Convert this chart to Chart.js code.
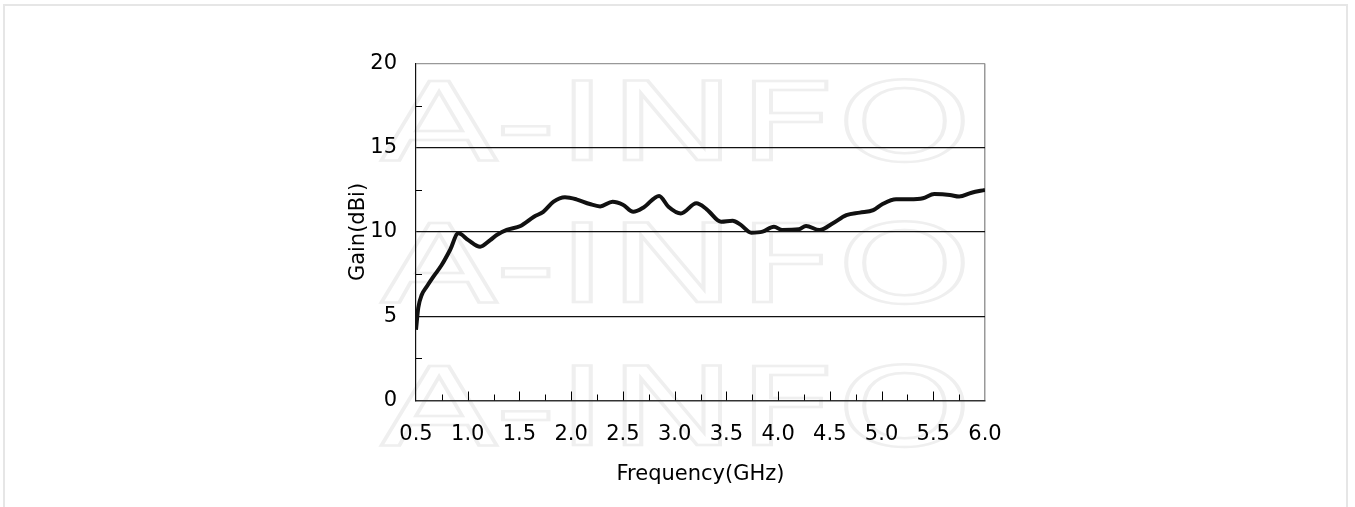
<!DOCTYPE html>
<html>
<head>
<meta charset="utf-8">
<script src="https://cdn.jsdelivr.net/npm/chart.js@4/dist/chart.umd.min.js"></script>
<style>
    body { margin: 0; background: #fff; }
    #wrap { position: relative; width: 1355px; height: 507px; }
    #frame { position: absolute; left: 3px; top: 4px; width: 1345px; height: 503px;
             border: 2px solid #e6e6e6; border-bottom: none; box-sizing: border-box; }
    canvas { position: absolute; left: 0; top: 0; }
</style>
</head>
<body>
<div id="wrap">
    <div id="frame"></div>
    <canvas id="grafico" width="1355" height="507"></canvas>
</div>
<script>
// frecuencia (GHz) y ganancia (dBi)
var frecuencias = [0.5, 0.522, 0.555, 0.603, 0.668, 0.748, 0.829, 0.909, 1.006, 1.12,
    1.217, 1.28, 1.377, 1.51, 1.64, 1.73, 1.83, 1.94, 2.05, 2.18,
    2.28, 2.40, 2.50, 2.60, 2.70, 2.85, 2.94, 3.06, 3.21, 3.31,
    3.45, 3.56, 3.64, 3.74, 3.85, 3.96, 4.04, 4.20, 4.27, 4.40,
    4.53, 4.66, 4.79, 4.92, 5.01, 5.14, 5.27, 5.40, 5.51, 5.66,
    5.75, 5.87, 6.0];
var ganancias = [4.2, 5.5, 6.26, 6.75, 7.35, 8.04, 8.93, 9.92, 9.52, 9.13,
    9.52, 9.82, 10.12, 10.36, 10.91, 11.2, 11.8, 12.06, 11.94, 11.66,
    11.52, 11.8, 11.62, 11.2, 11.46, 12.14, 11.5, 11.1, 11.7, 11.35,
    10.61, 10.67, 10.42, 9.96, 10.02, 10.31, 10.12, 10.16, 10.36, 10.12,
    10.52, 11.0, 11.15, 11.3, 11.66, 11.94, 11.94, 12.0, 12.25, 12.2,
    12.1, 12.33, 12.5];
var ticksX = [0.5, 1.0, 1.5, 2.0, 2.5, 3.0, 3.5, 4.0, 4.5, 5.0, 5.5, 6.0];
var ticksY = [0, 5, 10, 15, 20];
var marcaAgua = 'A-INFO';

var puntos = frecuencias.map(function (f, i) { return { x: f, y: ganancias[i] }; });

// marca de agua de fondo
var marcaAguaPlugin = {
    id: 'marcaAgua',
    beforeDraw: function (chart) {
        var ctx = chart.ctx;
        ctx.save();
        ctx.font = '108px "DejaVu Sans"';
        ctx.strokeStyle = '#efefef';
        ctx.lineWidth = 2.5;
        ctx.textBaseline = 'alphabetic';
        [160, 302, 445].forEach(function (base) {
            ctx.save();
            ctx.translate(380, base);
            ctx.scale(1.6, 1);
            ctx.strokeText(marcaAgua, 0, 0);
            ctx.restore();
        });
        ctx.restore();
    }
};

// marcas menores hacia adentro
var marcasPlugin = {
    id: 'marcas',
    afterDraw: function (chart) {
        var ctx = chart.ctx;
        var sx = chart.scales.x, sy = chart.scales.y;
        var area = chart.chartArea;
        ctx.save();
        ctx.strokeStyle = '#000';
        ctx.lineWidth = 1;
        ctx.beginPath();
        for (var v = 0.75; v < 6; v += 0.25) {
            var px = Math.round(sx.getPixelForValue(v)) + 0.5;
            var largo = (Math.abs(v * 2 - Math.round(v * 2)) < 0.01) ? 9 : 6;
            ctx.moveTo(px, area.bottom);
            ctx.lineTo(px, area.bottom - largo);
        }
        [2.5, 7.5, 12.5, 17.5].forEach(function (v) {
            var py = Math.round(sy.getPixelForValue(v)) + 0.5;
            ctx.moveTo(area.left, py);
            ctx.lineTo(area.left + 6, py);
        });
        ctx.stroke();
        ctx.restore();
    }
};

var ctx = document.getElementById('grafico');
new Chart(ctx, {
    type: 'line',
    data: {
        datasets: [{
            label: 'Gain',
            data: puntos,
            borderColor: '#111',
            borderWidth: 4,
            pointRadius: 0,
            fill: false,
            cubicInterpolationMode: 'monotone'
        }]
    },
    options: {
        responsive: false,
        animation: false,
        layout: { padding: { left: 340, right: 370, top: 63.5, bottom: 16.5 } },
        plugins: { legend: { display: false }, tooltip: { enabled: false } },
        scales: {
            x: {
                type: 'linear',
                min: 0.5,
                max: 6.0,
                afterBuildTicks: function (s) { s.ticks = ticksX.map(function (v) { return { value: v }; }); },
                afterFit: function (s) { s.height = 90; },
                ticks: {
                    color: '#000',
                    padding: 21,
                    maxRotation: 0,
                    font: { family: 'DejaVu Sans', size: 21 },
                    callback: function (v) { return Number(v).toFixed(1); }
                },
                grid: {
                    drawTicks: false,
                    color: function (c) { return c.tick && c.tick.value === 6 ? '#999' : 'rgba(0,0,0,0)'; },
                    lineWidth: 1.5
                },
                border: { color: '#333', width: 1.5 },
                title: {
                    display: true,
                    text: 'Frequency(GHz)',
                    color: '#000',
                    font: { family: 'DejaVu Sans', size: 21 },
                    padding: { top: 0, bottom: 3 }
                }
            },
            y: {
                min: 0,
                max: 20,
                afterBuildTicks: function (s) { s.ticks = ticksY.map(function (v) { return { value: v }; }); },
                afterFit: function (s) { s.width = 76; },
                ticks: {
                    color: '#000',
                    padding: 19,
                    font: { family: 'DejaVu Sans', size: 21 }
                },
                grid: {
                    drawTicks: false,
                    color: function (c) {
                        if (!c.tick) return 'rgba(0,0,0,0)';
                        if (c.tick.value === 20) return '#999';
                        if (c.tick.value === 0) return 'rgba(0,0,0,0)';
                        return '#111';
                    },
                    lineWidth: 1.2
                },
                border: { color: '#111', width: 1.2 },
                title: {
                    display: true,
                    text: 'Gain(dBi)',
                    color: '#000',
                    font: { family: 'DejaVu Sans', size: 21 },
                    padding: { top: 6, bottom: 0 }
                }
            }
        }
    },
    plugins: [marcaAguaPlugin, marcasPlugin]
});
</script>
</body>
</html>
